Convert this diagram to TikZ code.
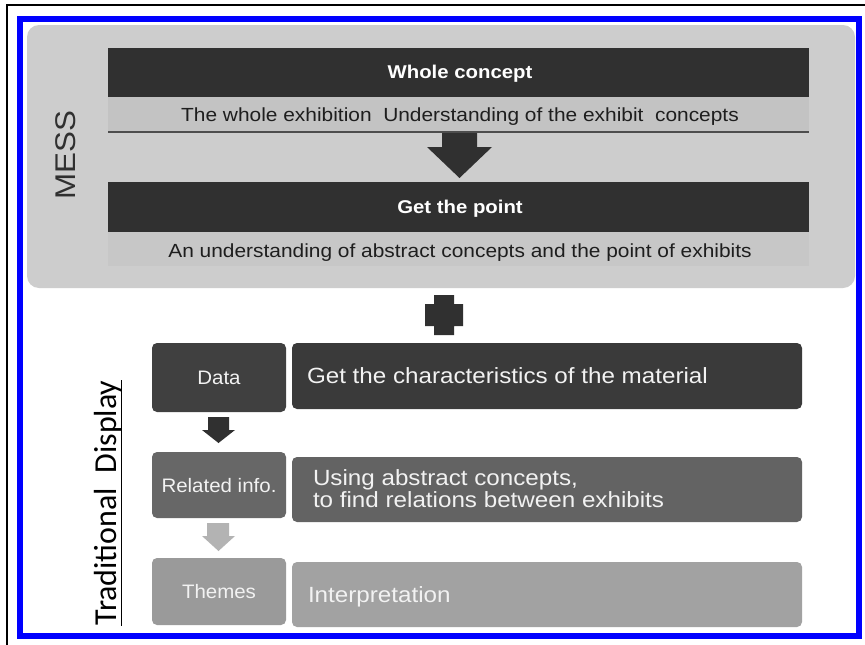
\documentclass[tikz,border=0pt]{standalone}
\usepackage{fontspec}
\setmainfont{Liberation Sans}
\newfontfamily\calib{Carlito}
\usetikzlibrary{calc}
\definecolor{panel}{HTML}{CDCDCD}
\definecolor{darkbar}{HTML}{303030}
\definecolor{band}{HTML}{C3C3C3}
\definecolor{bandb}{HTML}{C7C7C7}
\definecolor{bandline}{HTML}{4D4D4D}
\definecolor{darktxt}{HTML}{1E1E1E}
\definecolor{boxA}{HTML}{404040}
\definecolor{boxAr}{HTML}{3A3A3A}
\definecolor{boxB}{HTML}{676767}
\definecolor{boxBr}{HTML}{636363}
\definecolor{boxC}{HTML}{9A9A9A}
\definecolor{boxCr}{HTML}{A2A2A2}
\definecolor{arrowlight}{HTML}{B3B3B3}
\definecolor{lighttxt}{HTML}{F2F2F2}
\newcommand\sx[1]{\scalebox{1.1}[1]{#1}}
\newcommand\sxs[1]{\scalebox{1.05}[1]{#1}}
\newcommand\fs[1]{\fontsize{#1}{#1}\selectfont}
\begin{document}
\begin{tikzpicture}[x=1pt,y=-1pt,
  shapebox/.style={draw=none, inner sep=0pt, outer sep=0pt},
  tbox/.style={shapebox, rounded corners=5pt},
  lbl/.style={inner sep=0pt, outer sep=0pt, anchor=base},
  lblw/.style={inner sep=0pt, outer sep=0pt, anchor=base west}]
\useasboundingbox (0,0) rectangle (865,645);
\fill[white] (0,0) rectangle (865,645);
\draw[black, line width=2pt] (7,645) -- (7,5) -- (865,5);

% MESS panel
\node[shapebox, fill=panel, rounded corners=12pt, minimum width=828pt, minimum height=263pt] (panel) at (441,156.5) {};
\node[shapebox, fill=darkbar, minimum width=701pt, minimum height=49pt] (bar1) at (458.5,72.5) {};
\node[shapebox, fill=band, minimum width=701pt, minimum height=35pt] (band1) at (458.5,114.5) {};
\draw[bandline, line width=2pt] (band1.south west) -- (band1.south east);
\fill[darkbar] (442,133) -- (477,133) -- (477,147) -- (492,147) -- (459.5,178) -- (427,147) -- (442,147) -- cycle;
\node[shapebox, fill=darkbar, minimum width=701pt, minimum height=50pt] (bar2) at (458.5,207) {};
\node[shapebox, fill=bandb, minimum width=701pt, minimum height=34pt] (band2) at (458.5,249) {};

\node[lbl, white] (t1) at (460,78) {\fs{18.5}\bfseries\sx{Whole concept}};
\node[lbl, darktxt] (t2) at (460,121) {\fs{19}\sx{The whole exhibition\ \ Understanding\ of\ the exhibit\ \ concepts}};
\node[lbl, white] (t3) at (460,213.5) {\fs{18.5}\bfseries\sx{Get the point}};
\node[lbl, darktxt] (t4) at (460,257) {\fs{19}\sx{An understanding\ of abstract concepts and the point of exhibits}};
\node[lbl, rotate=90, text=darkbar] (mess) at (75.5,155) {\fs{28.5}\sx{MESS}};

% plus
\fill[darkbar] (434,295) -- (454,295) -- (454,304) -- (463,304) -- (463,326) -- (454,326) -- (454,335) -- (434,335) -- (434,326) -- (425,326) -- (425,304) -- (434,304) -- cycle;

% Traditional display
\node[tbox, fill=boxA, minimum width=134pt, minimum height=69pt] (data) at (219,377.5) {};
\node[tbox, fill=boxAr, minimum width=510pt, minimum height=66pt] (chars) at (547,376) {};
\node[tbox, fill=boxB, minimum width=134pt, minimum height=66pt] (rel) at (219,485) {};
\node[tbox, fill=boxBr, minimum width=510pt, minimum height=65pt] (using) at (547,489.5) {};
\node[tbox, fill=boxC, minimum width=134pt, minimum height=67pt] (themes) at (219,591.5) {};
\node[tbox, fill=boxCr, minimum width=510pt, minimum height=65pt] (interp) at (547,594.5) {};

\fill[darkbar] (208,417) -- (229,417) -- (229,430) -- (235,430) -- (218.5,443) -- (202,430) -- (208,430) -- cycle;
\fill[arrowlight] (207,523) -- (229,523) -- (229,536) -- (235,536) -- (218.5,551) -- (202,536) -- (207,536) -- cycle;

\node[lbl, lighttxt] (tdata) at (219,384.5) {\fs{19.5}\sxs{Data}};
\node[lbl, lighttxt] (trel) at (219,492) {\fs{19.5}\sxs{Related info.}};
\node[lbl, lighttxt] (tthemes) at (219,598) {\fs{19.5}\sxs{Themes}};
\node[lblw, lighttxt] (tchars) at (307,383) {\fs{22}\sx{Get the characteristics of the material}};
\node[lblw, lighttxt] (tusing1) at (313,485) {\fs{22}\sx{Using abstract concepts,}};
\node[lblw, lighttxt] (tusing2) at (313,507) {\fs{22}\sx{to find relations between exhibits}};
\node[lblw, lighttxt] (tinterp) at (308,602) {\fs{22}\sx{Interpretation}};

\node[lbl, rotate=90, text=black] (trad) at (116.5,503) {\calib\fs{32}Traditional\ \ Display};
\draw[black, line width=1.3pt] ($(trad.base west)+(5,0)$) -- ($(trad.base east)+(5,0)$);

\draw[blue, line width=6pt] (19.5,19) rectangle (858.5,635.5);
\end{tikzpicture}
\end{document}
